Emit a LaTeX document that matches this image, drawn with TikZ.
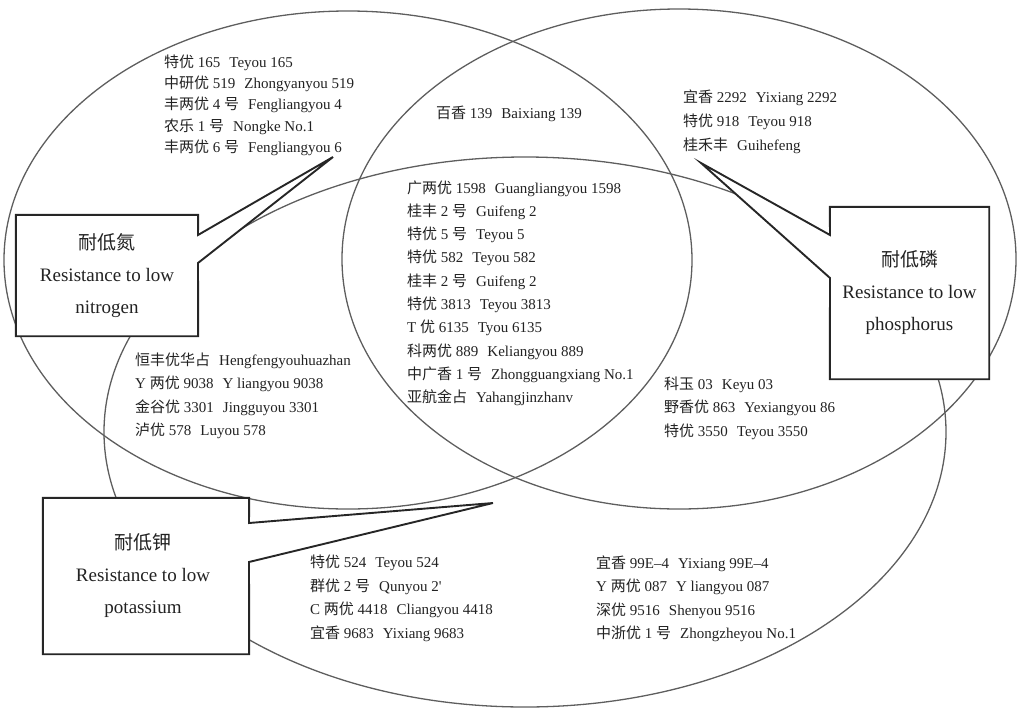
\documentclass[tikz,border=0pt]{standalone}
\usepackage{fontspec}
\setmainfont{Liberation Serif}
\newfontfamily\cjk{Noto Sans CJK SC}
\newcommand{\zh}[1]{{\cjk #1}}
\newcommand{\gp}{\hspace{0.6em}}
\definecolor{ellcol}{HTML}{5E5E5E}
\definecolor{boxcol}{HTML}{262626}
\definecolor{txtcol}{HTML}{222222}
\tikzset{
  ell/.style={draw=ellcol, line width=1.3pt},
  callout/.style={draw=boxcol, fill=white, line width=1.9pt, line join=miter},
  boxframe/.style={inner sep=0pt, minimum width=#1},
  boxtext/.style={inner sep=0pt, align=center, text=txtcol, font=\fontsize{19}{32}\selectfont},
  item/.style={anchor=base west, inner sep=0pt, text=txtcol, font=\fontsize{15}{18}\selectfont},
}
\begin{document}
\begin{tikzpicture}[x=1pt, y=-1pt]
\useasboundingbox (0,0) rectangle (1018,710);
% ellipses
\draw[ell] (348,260) ellipse [x radius=344, y radius=249];
\draw[ell] (679,259) ellipse [x radius=337, y radius=250];
\draw[ell] (525,432) ellipse [x radius=421, y radius=275];

% callout N
\node[boxframe=182pt, minimum height=121pt] (bN) at (107,275.5) {};
\coordinate (tipN) at (333,157);
\coordinate (nA) at (198,235);
\coordinate (nB) at (198,263);
\draw[callout] (bN.north west) -- (bN.north east) -- (nA) -- (tipN) -- (nB) -- (bN.south east) -- (bN.south west) -- cycle;
\node[boxtext] (tN) at (bN.center) {\zh{耐低氮}\\Resistance to low\\nitrogen};

% callout P
\node[boxframe=159pt, minimum height=172pt] (bP) at (909.5,293) {};
\coordinate (tipP) at (701,163);
\coordinate (pA) at (830,235);
\coordinate (pB) at (830,278);
\draw[callout] (bP.north east) -- (bP.north west) -- (pA) -- (tipP) -- (pB) -- (bP.south west) -- (bP.south east) -- cycle;
\node[boxtext] (tP) at (bP.center) {\zh{耐低磷}\\Resistance to low\\phosphorus};

% callout K
\node[boxframe=206pt, minimum height=156pt] (bK) at (146,576) {};
\coordinate (tipK) at (493,503);
\coordinate (kA) at (249,523);
\coordinate (kB) at (249,562);
\draw[callout] (bK.north west) -- (bK.north east) -- (kA) -- (tipK) -- (kB) -- (bK.south east) -- (bK.south west) -- cycle;
\node[boxtext] (tK) at ([xshift=-3pt]bK.center) {\zh{耐低钾}\\Resistance to low\\potassium};

% N only
\node[item] (n1) at (164,67) {\zh{特优} 165\gp Teyou 165};
\node[item] (n2) at (164,88.3) {\zh{中研优} 519\gp Zhongyanyou 519};
\node[item] (n3) at (164,109.6) {\zh{丰两优} 4 \zh{号}\gp Fengliangyou 4};
\node[item] (n4) at (164,131) {\zh{农乐} 1 \zh{号}\gp Nongke No.1};
\node[item] (n5) at (164,152.3) {\zh{丰两优} 6 \zh{号}\gp Fengliangyou 6};

% N and P
\node[item] (np1) at (436,118) {\zh{百香} 139\gp Baixiang 139};

% P only
\node[item] (p1) at (683,102) {\zh{宜香} 2292\gp Yixiang 2292};
\node[item] (p2) at (683,126) {\zh{特优} 918\gp Teyou 918};
\node[item] (p3) at (683,150) {\zh{桂禾丰}\gp Guihefeng};

% centre
\node[item] (c1) at (407,193) {\zh{广两优} 1598\gp Guangliangyou 1598};
\node[item] (c2) at (407,216.3) {\zh{桂丰} 2 \zh{号}\gp Guifeng 2};
\node[item] (c3) at (407,239.6) {\zh{特优} 5 \zh{号}\gp Teyou 5};
\node[item] (c4) at (407,262.9) {\zh{特优} 582\gp Teyou 582};
\node[item] (c5) at (407,286.2) {\zh{桂丰} 2 \zh{号}\gp Guifeng 2};
\node[item] (c6) at (407,309.5) {\zh{特优} 3813\gp Teyou 3813};
\node[item] (c7) at (407,332.8) {T \zh{优} 6135\gp Tyou 6135};
\node[item] (c8) at (407,356.1) {\zh{科两优} 889\gp Keliangyou 889};
\node[item] (c9) at (407,379.4) {\zh{中广香} 1 \zh{号}\gp Zhongguangxiang No.1};
\node[item] (c10) at (407,402.7) {\zh{亚航金占}\gp Yahangjinzhanv};

% N and K
\node[item] (nk1) at (135,365) {\zh{恒丰优华占}\gp Hengfengyouhuazhan};
\node[item] (nk2) at (135,388.5) {Y \zh{两优} 9038\gp Y liangyou 9038};
\node[item] (nk3) at (135,412) {\zh{金谷优} 3301\gp Jingguyou 3301};
\node[item] (nk4) at (135,435.5) {\zh{泸优} 578\gp Luyou 578};

% P and K
\node[item] (pk1) at (664,389) {\zh{科玉} 03\gp Keyu 03};
\node[item] (pk2) at (664,412.5) {\zh{野香优} 863\gp Yexiangyou 86};
\node[item] (pk3) at (664,436) {\zh{特优} 3550\gp Teyou 3550};

% K only (left)
\node[item] (k1) at (310,567) {\zh{特优} 524\gp Teyou 524};
\node[item] (k2) at (310,591) {\zh{群优} 2 \zh{号}\gp Qunyou 2\textquotesingle};
\node[item] (k3) at (310,614.5) {C \zh{两优} 4418\gp Cliangyou 4418};
\node[item] (k4) at (310,638) {\zh{宜香} 9683\gp Yixiang 9683};

% K only (right)
\node[item] (k5) at (596,568) {\zh{宜香} 99E–4\gp Yixiang 99E–4};
\node[item] (k6) at (596,591.5) {Y \zh{两优} 087\gp Y liangyou 087};
\node[item] (k7) at (596,615) {\zh{深优} 9516\gp Shenyou 9516};
\node[item] (k8) at (596,638) {\zh{中浙优} 1 \zh{号}\gp Zhongzheyou No.1};
\end{tikzpicture}
\end{document}
